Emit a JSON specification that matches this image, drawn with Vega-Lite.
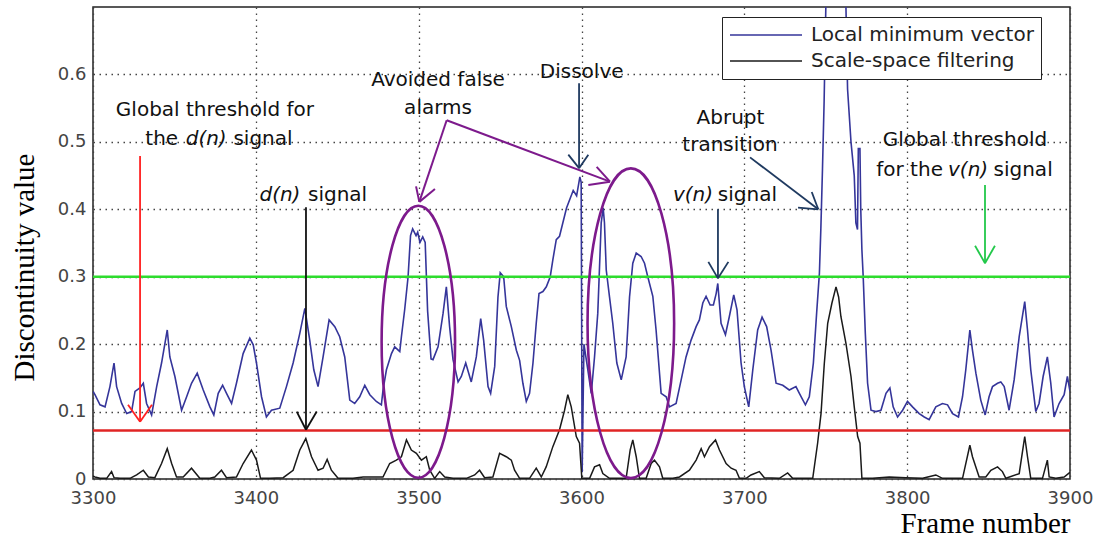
{
  "$schema": "https://vega.github.io/schema/vega-lite/v6.json",
  "width": 977,
  "height": 472,
  "autosize": "none",
  "padding": {"left": 93, "top": 7, "right": 26, "bottom": 61},
  "background": "white",
  "datasets": {
    "lmv": [
      {"x":3300,"y":0.13},{"x":3301.2,"y":0.125},{"x":3304.3,"y":0.110},{"x":3307.4,"y":0.107},{"x":3310.4,"y":0.137},{"x":3312.9,"y":0.172},{"x":3314.5,"y":0.137},{"x":3317.6,"y":0.112},{"x":3320.7,"y":0.097},{"x":3323.7,"y":0.100},{"x":3325.8,"y":0.130},{"x":3328.8,"y":0.135},{"x":3330.9,"y":0.142},{"x":3332.9,"y":0.112},{"x":3336.0,"y":0.095},{"x":3339.1,"y":0.137},{"x":3342.1,"y":0.172},{"x":3345.6,"y":0.221},{"x":3347.2,"y":0.181},{"x":3350.3,"y":0.152},{"x":3354.4,"y":0.102},{"x":3357.5,"y":0.122},{"x":3360.5,"y":0.142},{"x":3364.0,"y":0.157},{"x":3367.7,"y":0.132},{"x":3371.8,"y":0.107},{"x":3374.2,"y":0.095},{"x":3376.9,"y":0.127},{"x":3379.6,"y":0.139},{"x":3382.0,"y":0.127},{"x":3385.1,"y":0.112},{"x":3388.1,"y":0.142},{"x":3392.2,"y":0.186},{"x":3396.3,"y":0.209},{"x":3398.4,"y":0.199},{"x":3400.4,"y":0.172},{"x":3403.5,"y":0.122},{"x":3406.5,"y":0.092},{"x":3409.6,"y":0.102},{"x":3414.7,"y":0.105},{"x":3418.8,"y":0.137},{"x":3422.9,"y":0.172},{"x":3427.0,"y":0.216},{"x":3430.1,"y":0.253},{"x":3433.1,"y":0.206},{"x":3435.6,"y":0.162},{"x":3438.2,"y":0.137},{"x":3441.3,"y":0.181},{"x":3445.0,"y":0.236},{"x":3448.5,"y":0.226},{"x":3451.5,"y":0.211},{"x":3454.6,"y":0.181},{"x":3457.7,"y":0.117},{"x":3460.7,"y":0.112},{"x":3463.8,"y":0.122},{"x":3466.9,"y":0.139},{"x":3470.0,"y":0.125},{"x":3474.0,"y":0.115},{"x":3477.1,"y":0.110},{"x":3478.1,"y":0.132},{"x":3480.2,"y":0.162},{"x":3483.3,"y":0.186},{"x":3485.3,"y":0.196},{"x":3488.4,"y":0.189},{"x":3489.4,"y":0.211},{"x":3491.4,"y":0.251},{"x":3493.5,"y":0.300},{"x":3495,"y":0.361},{"x":3496.3,"y":0.371},{"x":3498.4,"y":0.361},{"x":3499.4,"y":0.366},{"x":3500.8,"y":0.351},{"x":3502.5,"y":0.359},{"x":3504,"y":0.351},{"x":3505.5,"y":0.249},{"x":3507.6,"y":0.178},{"x":3508.8,"y":0.177},{"x":3511.9,"y":0.196},{"x":3515,"y":0.246},{"x":3517,"y":0.285},{"x":3519,"y":0.226},{"x":3521.1,"y":0.177},{"x":3524.2,"y":0.144},{"x":3526.2,"y":0.152},{"x":3528.9,"y":0.172},{"x":3532.3,"y":0.144},{"x":3535.4,"y":0.181},{"x":3538.1,"y":0.238},{"x":3539.9,"y":0.206},{"x":3542.6,"y":0.137},{"x":3544.2,"y":0.127},{"x":3546.7,"y":0.167},{"x":3548.7,"y":0.27},{"x":3550.1,"y":0.306},{"x":3552.2,"y":0.300},{"x":3553.8,"y":0.256},{"x":3556.9,"y":0.226},{"x":3560,"y":0.191},{"x":3562,"y":0.176},{"x":3564,"y":0.142},{"x":3566.1,"y":0.115},{"x":3568.1,"y":0.127},{"x":3570.2,"y":0.172},{"x":3572.2,"y":0.231},{"x":3573.9,"y":0.275},{"x":3576.3,"y":0.278},{"x":3578.4,"y":0.285},{"x":3580.8,"y":0.300},{"x":3582.4,"y":0.325},{"x":3584.5,"y":0.355},{"x":3586.5,"y":0.36},{"x":3590.8,"y":0.402},{"x":3594.9,"y":0.428},{"x":3597,"y":0.42},{"x":3599,"y":0.448},{"x":3599.8,"y":0.44},{"x":3600.4,"y":0.01},{"x":3601.5,"y":0.20},{"x":3603.9,"y":0.162},{"x":3606.0,"y":0.127},{"x":3608.0,"y":0.181},{"x":3610.0,"y":0.246},{"x":3612.1,"y":0.38},{"x":3613.3,"y":0.402},{"x":3614.1,"y":0.38},{"x":3615.2,"y":0.31},{"x":3617.2,"y":0.27},{"x":3619.2,"y":0.231},{"x":3621.7,"y":0.172},{"x":3624.4,"y":0.147},{"x":3627.4,"y":0.181},{"x":3629.5,"y":0.27},{"x":3631.5,"y":0.320},{"x":3633.6,"y":0.335},{"x":3636.6,"y":0.330},{"x":3638.7,"y":0.320},{"x":3640.7,"y":0.300},{"x":3643.8,"y":0.271},{"x":3645.8,"y":0.221},{"x":3648.9,"y":0.127},{"x":3652.0,"y":0.122},{"x":3654.0,"y":0.107},{"x":3658.1,"y":0.112},{"x":3661.2,"y":0.147},{"x":3664.2,"y":0.181},{"x":3667.3,"y":0.206},{"x":3670.4,"y":0.226},{"x":3672.4,"y":0.236},{"x":3674.5,"y":0.261},{"x":3676.5,"y":0.271},{"x":3679,"y":0.258},{"x":3681,"y":0.258},{"x":3682.7,"y":0.275},{"x":3683.7,"y":0.290},{"x":3685.7,"y":0.231},{"x":3688.4,"y":0.214},{"x":3690.8,"y":0.241},{"x":3693.5,"y":0.273},{"x":3695.5,"y":0.251},{"x":3698,"y":0.172},{"x":3700,"y":0.137},{"x":3702.7,"y":0.107},{"x":3705.2,"y":0.162},{"x":3708.2,"y":0.221},{"x":3710.9,"y":0.240},{"x":3713.7,"y":0.226},{"x":3716.4,"y":0.191},{"x":3719.5,"y":0.142},{"x":3723.6,"y":0.139},{"x":3727.6,"y":0.132},{"x":3731.7,"y":0.137},{"x":3733.8,"y":0.127},{"x":3737.5,"y":0.110},{"x":3739.9,"y":0.122},{"x":3742.4,"y":0.172},{"x":3744.4,"y":0.246},{"x":3746.1,"y":0.305},{"x":3747,"y":0.372},{"x":3748,"y":0.46},{"x":3749,"y":0.56},{"x":3750.2,"y":0.72},{"x":3752,"y":0.85},{"x":3755,"y":0.92},{"x":3758,"y":0.92},{"x":3761,"y":0.82},{"x":3762.4,"y":0.70},{"x":3763.4,"y":0.578},{"x":3765.5,"y":0.5},{"x":3767.5,"y":0.45},{"x":3768.5,"y":0.38},{"x":3769.5,"y":0.37},{"x":3770,"y":0.49},{"x":3771,"y":0.49},{"x":3771.5,"y":0.40},{"x":3772.2,"y":0.34},{"x":3773,"y":0.3},{"x":3774.3,"y":0.216},{"x":3775.7,"y":0.142},{"x":3777.8,"y":0.102},{"x":3780.8,"y":0.100},{"x":3783.9,"y":0.102},{"x":3787,"y":0.127},{"x":3789.4,"y":0.135},{"x":3791.4,"y":0.107},{"x":3794.1,"y":0.092},{"x":3797.2,"y":0.102},{"x":3800.2,"y":0.115},{"x":3803.3,"y":0.107},{"x":3807.4,"y":0.097},{"x":3810.5,"y":0.092},{"x":3813.5,"y":0.088},{"x":3817.6,"y":0.107},{"x":3821.7,"y":0.112},{"x":3824.8,"y":0.110},{"x":3827.9,"y":0.097},{"x":3831.5,"y":0.092},{"x":3834,"y":0.122},{"x":3836,"y":0.162},{"x":3838.5,"y":0.221},{"x":3840.1,"y":0.191},{"x":3842.2,"y":0.157},{"x":3845.2,"y":0.117},{"x":3847.9,"y":0.095},{"x":3850.3,"y":0.122},{"x":3852.4,"y":0.137},{"x":3855.5,"y":0.142},{"x":3857.5,"y":0.144},{"x":3859.6,"y":0.137},{"x":3862.6,"y":0.102},{"x":3865.7,"y":0.147},{"x":3868.8,"y":0.211},{"x":3872.2,"y":0.263},{"x":3873.9,"y":0.221},{"x":3875.9,"y":0.162},{"x":3879,"y":0.100},{"x":3881,"y":0.112},{"x":3883.5,"y":0.152},{"x":3886.1,"y":0.181},{"x":3888.2,"y":0.142},{"x":3890.2,"y":0.092},{"x":3893.3,"y":0.112},{"x":3896.4,"y":0.125},{"x":3898.4,"y":0.152},{"x":3900,"y":0.13}
    ],
    "ssf": [
      {"x":3300,"y":0.004},{"x":3301.2,"y":0.003},{"x":3304.3,"y":0.001},{"x":3308.4,"y":0.001},{"x":3311.4,"y":0.011},{"x":3312.9,"y":0.002},{"x":3316.6,"y":0.001},{"x":3322.7,"y":0.001},{"x":3326.8,"y":0.006},{"x":3330.9,"y":0.013},{"x":3334,"y":0.003},{"x":3338,"y":0.002},{"x":3342.1,"y":0.023},{"x":3345.6,"y":0.045},{"x":3348.3,"y":0.023},{"x":3351.3,"y":0.003},{"x":3355.4,"y":0.003},{"x":3360.5,"y":0.016},{"x":3365.6,"y":0.001},{"x":3371.8,"y":0.001},{"x":3374.8,"y":0.003},{"x":3378.9,"y":0.013},{"x":3382,"y":0.002},{"x":3388.1,"y":0.003},{"x":3392.2,"y":0.023},{"x":3397.3,"y":0.043},{"x":3400.4,"y":0.028},{"x":3402.9,"y":0.001},{"x":3408.6,"y":0.001},{"x":3416.8,"y":0.002},{"x":3422.9,"y":0.013},{"x":3427,"y":0.043},{"x":3430.7,"y":0.06},{"x":3434.2,"y":0.033},{"x":3438.2,"y":0.013},{"x":3441.3,"y":0.016},{"x":3443.8,"y":0.029},{"x":3446.4,"y":0.013},{"x":3450.5,"y":0.001},{"x":3459.7,"y":0.001},{"x":3465.9,"y":0.003},{"x":3478.1,"y":0.003},{"x":3482.2,"y":0.023},{"x":3486.3,"y":0.028},{"x":3489.4,"y":0.033},{"x":3492.5,"y":0.058},{"x":3495.5,"y":0.043},{"x":3498.6,"y":0.038},{"x":3501.7,"y":0.028},{"x":3504.7,"y":0.033},{"x":3506.8,"y":0.013},{"x":3509.8,"y":0.001},{"x":3512.9,"y":0.011},{"x":3516,"y":0.003},{"x":3521.1,"y":0.001},{"x":3529.3,"y":0.001},{"x":3534.4,"y":0.006},{"x":3537.4,"y":0.013},{"x":3540.5,"y":0.002},{"x":3545.6,"y":0.003},{"x":3549.7,"y":0.038},{"x":3553.8,"y":0.033},{"x":3556.9,"y":0.028},{"x":3558.9,"y":0.013},{"x":3562,"y":0.001},{"x":3568.1,"y":0.001},{"x":3572.2,"y":0.016},{"x":3575.3,"y":0.003},{"x":3578.3,"y":0.018},{"x":3582.4,"y":0.048},{"x":3586.5,"y":0.073},{"x":3589.6,"y":0.102},{"x":3591.6,"y":0.125},{"x":3593.7,"y":0.107},{"x":3596.8,"y":0.063},{"x":3598.8,"y":0.053},{"x":3600.2,"y":0.001},{"x":3605,"y":0.001},{"x":3608,"y":0.018},{"x":3611.1,"y":0.021},{"x":3613.1,"y":0.008},{"x":3617.2,"y":0.001},{"x":3627.4,"y":0.001},{"x":3629.9,"y":0.043},{"x":3631.5,"y":0.058},{"x":3633.6,"y":0.033},{"x":3635.6,"y":0.001},{"x":3639.7,"y":0.001},{"x":3642.8,"y":0.023},{"x":3644.8,"y":0.028},{"x":3647.9,"y":0.018},{"x":3649.9,"y":0.001},{"x":3656.1,"y":0.001},{"x":3660.2,"y":0.003},{"x":3666.3,"y":0.013},{"x":3670.4,"y":0.028},{"x":3673.5,"y":0.045},{"x":3675.5,"y":0.033},{"x":3678.6,"y":0.048},{"x":3682.3,"y":0.058},{"x":3684.7,"y":0.043},{"x":3688.8,"y":0.023},{"x":3691.9,"y":0.016},{"x":3694.9,"y":0.013},{"x":3697,"y":0.001},{"x":3701.1,"y":0.001},{"x":3704.1,"y":0.006},{"x":3709.2,"y":0.011},{"x":3712.3,"y":0.002},{"x":3721.5,"y":0.001},{"x":3726.6,"y":0.009},{"x":3729.7,"y":0.001},{"x":3742,"y":0.001},{"x":3745,"y":0.053},{"x":3747.1,"y":0.097},{"x":3749.1,"y":0.171},{"x":3751.2,"y":0.231},{"x":3753.8,"y":0.261},{"x":3756.3,"y":0.285},{"x":3757.9,"y":0.270},{"x":3759.3,"y":0.241},{"x":3762.4,"y":0.201},{"x":3765.5,"y":0.152},{"x":3767.5,"y":0.107},{"x":3769.6,"y":0.063},{"x":3771,"y":0.053},{"x":3772.2,"y":0.001},{"x":3778.8,"y":0.001},{"x":3789,"y":0.003},{"x":3799.2,"y":0.002},{"x":3809.5,"y":0.001},{"x":3817.6,"y":0.006},{"x":3821.7,"y":0.001},{"x":3834,"y":0.001},{"x":3838.5,"y":0.050},{"x":3840.1,"y":0.033},{"x":3844.2,"y":0.003},{"x":3848.3,"y":0.003},{"x":3851.4,"y":0.013},{"x":3855.5,"y":0.018},{"x":3858.5,"y":0.011},{"x":3860.6,"y":0.001},{"x":3868.8,"y":0.008},{"x":3872.2,"y":0.063},{"x":3873.9,"y":0.033},{"x":3875.9,"y":0.001},{"x":3883.1,"y":0.001},{"x":3886.1,"y":0.028},{"x":3887.2,"y":0.003},{"x":3891.3,"y":0.001},{"x":3896.4,"y":0.003},{"x":3899,"y":0.008},{"x":3900,"y":0.01}
    ]
  },
  "config": {
    "font": "DejaVu Sans",
    "view": {"stroke": "#222", "strokeWidth": 1.5},
    "axis": {
      "domain": false, "ticks": false, "grid": true,
      "gridColor": "#444", "gridDash": [1.5, 4.5], "gridWidth": 1.3,
      "labelFont": "DejaVu Sans", "labelFontSize": 18, "labelColor": "#444",
      "titleFont": "Liberation Serif", "titleFontSize": 29, "titleFontWeight": "normal", "titleColor": "#000"
    }
  },
  "layer": [
    {
      "data": {"name": "lmv"},
      "mark": {"type": "line", "clip": true, "strokeWidth": 1.6},
      "encoding": {
        "x": {"field": "x", "type": "quantitative",
              "scale": {"domain": [3300, 3900], "nice": false, "zero": false},
              "axis": {"values": [3300, 3400, 3500, 3600, 3700, 3800, 3900], "format": "d", "labelPadding": 10, "labelFlush": false,
                       "title": "Frame number", "titleX": 977, "titleY": 53, "titleAlign": "right", "titleBaseline": "alphabetic"}},
        "y": {"field": "y", "type": "quantitative",
              "scale": {"domain": [0, 0.7], "nice": false},
              "axis": {"values": [0, 0.1, 0.2, 0.3, 0.4, 0.5, 0.6], "format": ".1~f", "labelPadding": 7,
                       "title": "Discontinuity value", "titleX": -69, "titleY": 260, "titleBaseline": "middle"}},
        "color": {"datum": "Local minimum vector", "type": "nominal",
                  "scale": {"domain": ["Local minimum vector", "Scale-space filtering"], "range": ["#35359a", "#1a1a1a"]},
                  "legend": {"orient": "none", "legendX": 629, "legendY": 10, "title": null, "symbolType": "stroke",
                             "symbolSize": 5184, "symbolStrokeWidth": 1.5, "labelFont": "DejaVu Sans", "labelFontSize": 20,
                             "labelLimit": 0, "labelColor": "#222", "strokeColor": "#222", "fillColor": "white", "padding": 7,
                             "rowPadding": 4, "clipHeight": 22, "labelOffset": 8}}
      }
    },
    {
      "data": {"name": "ssf"},
      "mark": {"type": "line", "clip": true, "strokeWidth": 1.5},
      "encoding": {
        "x": {"field": "x", "type": "quantitative"},
        "y": {"field": "y", "type": "quantitative"},
        "color": {"datum": "Scale-space filtering", "type": "nominal"}
      }
    },
    {
      "data": {"values": [{"y": 0.072}]},
      "mark": {"type": "rule", "color": "#e02424", "strokeWidth": 2.5},
      "encoding": {"y": {"field": "y", "type": "quantitative"}}
    },
    {
      "data": {"values": [{"y": 0.3}]},
      "mark": {"type": "rule", "color": "#2edc2e", "strokeWidth": 2.5},
      "encoding": {"y": {"field": "y", "type": "quantitative"}}
    },
    {
      "data": {"values": [
        {"x": 3328.9, "y": 0.479, "x2": 3328.9, "y2": 0.085},
        {"x": 3321.5, "y": 0.110, "x2": 3328.9, "y2": 0.085},
        {"x": 3336.2, "y": 0.110, "x2": 3328.9, "y2": 0.085}
      ]},
      "mark": {"type": "rule", "color": "#ff2020", "strokeWidth": 1.8},
      "encoding": {"x": {"field": "x", "type": "quantitative"}, "y": {"field": "y", "type": "quantitative"},
                   "x2": {"field": "x2"}, "y2": {"field": "y2"}}
    },
    {
      "data": {"values": [
        {"x": 3430.8, "y": 0.403, "x2": 3430.8, "y2": 0.073},
        {"x": 3425.1, "y": 0.100, "x2": 3430.8, "y2": 0.073},
        {"x": 3437.4, "y": 0.100, "x2": 3430.8, "y2": 0.073}
      ]},
      "mark": {"type": "rule", "color": "#111", "strokeWidth": 1.8},
      "encoding": {"x": {"field": "x", "type": "quantitative"}, "y": {"field": "y", "type": "quantitative"},
                   "x2": {"field": "x2"}, "y2": {"field": "y2"}}
    },
    {
      "data": {"values": [
        {"x": 3517.2, "y": 0.532, "x2": 3500.4, "y2": 0.411},
        {"x": 3498.4, "y": 0.434, "x2": 3500.4, "y2": 0.411},
        {"x": 3510.0, "y": 0.430, "x2": 3500.4, "y2": 0.411},
        {"x": 3517.2, "y": 0.532, "x2": 3617.5, "y2": 0.441},
        {"x": 3609.3, "y": 0.463, "x2": 3617.5, "y2": 0.441},
        {"x": 3604.2, "y": 0.436, "x2": 3617.5, "y2": 0.441}
      ]},
      "mark": {"type": "rule", "color": "#7d1a8c", "strokeWidth": 2},
      "encoding": {"x": {"field": "x", "type": "quantitative"}, "y": {"field": "y", "type": "quantitative"},
                   "x2": {"field": "x2"}, "y2": {"field": "y2"}}
    },
    {
      "data": {"values": [
        {"x": 3598.5, "y": 0.587, "x2": 3598.5, "y2": 0.461},
        {"x": 3591.9, "y": 0.481, "x2": 3598.5, "y2": 0.461},
        {"x": 3604.2, "y": 0.481, "x2": 3598.5, "y2": 0.461},
        {"x": 3703.5, "y": 0.477, "x2": 3745.4, "y2": 0.400},
        {"x": 3733.0, "y": 0.4025, "x2": 3745.4, "y2": 0.400},
        {"x": 3741.4, "y": 0.4256, "x2": 3745.4, "y2": 0.400},
        {"x": 3683.8, "y": 0.400, "x2": 3683.8, "y2": 0.2976},
        {"x": 3677.9, "y": 0.322, "x2": 3683.8, "y2": 0.2976},
        {"x": 3690.2, "y": 0.322, "x2": 3683.8, "y2": 0.2976}
      ]},
      "mark": {"type": "rule", "color": "#1f3a60", "strokeWidth": 1.8},
      "encoding": {"x": {"field": "x", "type": "quantitative"}, "y": {"field": "y", "type": "quantitative"},
                   "x2": {"field": "x2"}, "y2": {"field": "y2"}}
    },
    {
      "data": {"values": [
        {"x": 3847.8, "y": 0.436, "x2": 3847.8, "y2": 0.320},
        {"x": 3841.7, "y": 0.346, "x2": 3847.8, "y2": 0.320},
        {"x": 3853.9, "y": 0.346, "x2": 3847.8, "y2": 0.320}
      ]},
      "mark": {"type": "rule", "color": "#22c84a", "strokeWidth": 1.8},
      "encoding": {"x": {"field": "x", "type": "quantitative"}, "y": {"field": "y", "type": "quantitative"},
                   "x2": {"field": "x2"}, "y2": {"field": "y2"}}
    },
    {
      "data": {"values": [{"x": 3499.8, "y": 0.2035}]},
      "mark": {"type": "point", "filled": false, "color": "#7d1a8c", "strokeWidth": 2.6, "opacity": 1, "size": 73984,
               "shape": "M0,-1C0.1491,-1,0.27,-0.5523,0.27,0C0.27,0.5523,0.1491,1,0,1C-0.1491,1,-0.27,0.5523,-0.27,0C-0.27,-0.5523,-0.1491,-1,0,-1Z"},
      "encoding": {"x": {"field": "x", "type": "quantitative"}, "y": {"field": "y", "type": "quantitative"}}
    },
    {
      "data": {"values": [{"x": 3630.3, "y": 0.231}]},
      "mark": {"type": "point", "filled": false, "color": "#7d1a8c", "strokeWidth": 2.6, "opacity": 1, "size": 95976,
               "shape": "M0,-1C0.1544,-1,0.2795,-0.5523,0.2795,0C0.2795,0.5523,0.1544,1,0,1C-0.1544,1,-0.2795,0.5523,-0.2795,0C-0.2795,-0.5523,-0.1544,-1,0,-1Z"},
      "encoding": {"x": {"field": "x", "type": "quantitative"}, "y": {"field": "y", "type": "quantitative"}}
    },
    {
      "data": {"values": [
        {"x": 3374.9, "y": 0.547, "t": "Global threshold for"},
        {"x": 3342.2, "y": 0.504, "t": "the"},
        {"x": 3404.4, "y": 0.504, "t": "signal"},
        {"x": 3450.2, "y": 0.421, "t": "signal"},
        {"x": 3511.9, "y": 0.592, "t": "Avoided false"},
        {"x": 3511.9, "y": 0.550, "t": "alarms"},
        {"x": 3600.1, "y": 0.604, "t": "Dissolve"},
        {"x": 3691.5, "y": 0.536, "t": "Abrupt"},
        {"x": 3691.2, "y": 0.495, "t": "transition"},
        {"x": 3701.9, "y": 0.421, "t": "signal"},
        {"x": 3835.5, "y": 0.503, "t": "Global threshold"},
        {"x": 3801.5, "y": 0.459, "t": "for the"},
        {"x": 3871.2, "y": 0.459, "t": "signal"}
      ]},
      "mark": {"type": "text", "font": "DejaVu Sans", "fontSize": 20, "color": "#111", "align": "center", "baseline": "middle"},
      "encoding": {"x": {"field": "x", "type": "quantitative"}, "y": {"field": "y", "type": "quantitative"}, "text": {"field": "t"}}
    },
    {
      "data": {"values": [
        {"x": 3369.5, "y": 0.504, "t": "d(n)"},
        {"x": 3414.8, "y": 0.421, "t": "d(n)"},
        {"x": 3668.5, "y": 0.421, "t": "v(n)"},
        {"x": 3837.4, "y": 0.459, "t": "v(n)"}
      ]},
      "mark": {"type": "text", "font": "DejaVu Sans", "fontSize": 20, "fontStyle": "italic", "color": "#111", "align": "center", "baseline": "middle"},
      "encoding": {"x": {"field": "x", "type": "quantitative"}, "y": {"field": "y", "type": "quantitative"}, "text": {"field": "t"}}
    }
  ]
}
